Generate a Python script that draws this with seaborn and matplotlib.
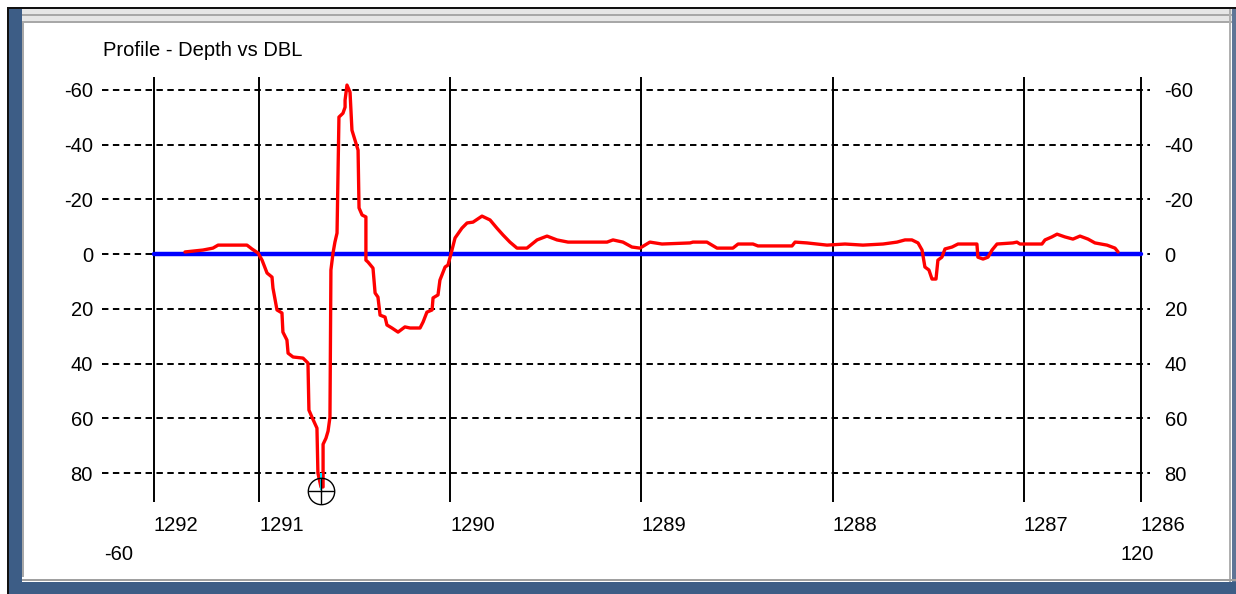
import numpy as np
import pandas as pd
import seaborn as sns
import matplotlib.pyplot as plt
from matplotlib.patches import Rectangle

sns.set_style('white')
plt.rcParams['font.family'] = ['Liberation Sans', 'DejaVu Sans']
plt.rcParams['text.color'] = 'black'

# Profile samples (depth, DBL value)
depth = [1291.387, 1291.345, 1291.293, 1291.241, 1291.214, 1291.063, 1291.037,
         1291.005, 1290.984, 1290.958, 1290.932, 1290.927, 1290.906, 1290.880,
         1290.875, 1290.854, 1290.848, 1290.822, 1290.770, 1290.744, 1290.739,
         1290.723, 1290.697, 1290.692, 1290.676, 1290.665, 1290.665, 1290.650,
         1290.639, 1290.629, 1290.624, 1290.613, 1290.603, 1290.592, 1290.582,
         1290.561, 1290.550, 1290.550, 1290.540, 1290.524, 1290.514, 1290.498,
         1290.482, 1290.477, 1290.461, 1290.441, 1290.441, 1290.430, 1290.404,
         1290.393, 1290.378, 1290.367, 1290.341, 1290.331, 1290.305, 1290.273,
         1290.237, 1290.210, 1290.158, 1290.142, 1290.122, 1290.095, 1290.090,
         1290.064, 1290.054, 1290.027, 1290.012, 1289.991, 1289.975, 1289.939,
         1289.912, 1289.881, 1289.834, 1289.792, 1289.756, 1289.724, 1289.688,
         1289.651, 1289.599, 1289.546, 1289.494, 1289.442, 1289.384, 1289.180,
         1289.149, 1289.097, 1289.050, 1289.008, 1288.956, 1288.893, 1288.746,
         1288.731, 1288.658, 1288.605, 1288.522, 1288.495, 1288.417, 1288.391,
         1288.213, 1288.197, 1288.135, 1288.030, 1287.936, 1287.842, 1287.737,
         1287.664, 1287.622, 1287.586, 1287.554, 1287.533, 1287.518, 1287.497,
         1287.481, 1287.460, 1287.450, 1287.429, 1287.413, 1287.376, 1287.345,
         1287.246, 1287.241, 1287.214, 1287.188, 1287.167, 1287.141, 1287.058,
         1287.037, 1287.021, 1286.906, 1286.890, 1286.854, 1286.827, 1286.786,
         1286.744, 1286.707, 1286.665, 1286.629, 1286.566, 1286.524, 1286.508]
dbl = [-0.8, -1.1, -1.5, -2.2, -3.3, -3.3, -1.9,
       -0.4, 2.2, 6.9, 8.4, 12.4, 20.4, 21.5,
       28.5, 31.4, 36.2, 37.6, 38.0, 39.8, 57.0,
       59.6, 63.6, 80.0, 85.1, 85.1, 69.5, 67.3,
       64.7, 59.6, 5.8, -0.4, -4.4, -7.7, -50.1,
       -51.5, -53.7, -56.3, -61.8, -59.2, -45.3, -41.7,
       -38.0, -16.9, -14.3, -13.6, 2.2, 2.9, 5.1,
       14.2, 15.7, 22.3, 23.0, 25.9, 27.0, 28.5,
       26.6, 27.0, 27.0, 24.8, 21.2, 20.4, 16.0,
       14.9, 9.5, 4.7, 4.0, -1.5, -5.9, -9.5,
       -11.4, -11.7, -13.9, -12.5, -9.5, -7.0, -4.4,
       -2.2, -2.2, -5.2, -6.6, -5.2, -4.4, -4.4,
       -5.2, -4.4, -2.6, -2.2, -4.4, -3.7, -4.1,
       -4.4, -4.4, -2.2, -2.2, -3.7, -3.7, -3.0,
       -3.0, -4.4, -4.1, -3.3, -3.7, -3.3, -3.7,
       -4.4, -5.2, -5.2, -4.1, -1.5, 4.7, 5.8,
       9.1, 9.1, 2.2, 1.1, -1.9, -2.6, -3.7,
       -3.7, 1.1, 1.8, 1.1, -1.5, -3.7, -4.1,
       -4.4, -3.7, -3.7, -5.2, -6.3, -7.3, -6.3,
       -5.5, -6.6, -5.5, -4.1, -3.3, -2.2, -0.8]

# reference (zero) line over the whole depth range
ref_depth = [1291.55, 1286.39]
ref_dbl = [0, 0]

x_ticks = [1291.55, 1291.0, 1290.0, 1289.0, 1288.0, 1287.0, 1286.39]
x_labels = ['1292', '1291', '1290', '1289', '1288', '1287', '1286']
y_ticks = [-60, -40, -20, 0, 20, 40, 60, 80]
range_labels = ['-60', '120']

W, H = 1236, 594


def px_rect(fig, x, y, w, h, color):
    fig.patches.append(Rectangle((x / W, 1 - (y + h) / H), w / W, h / H,
                                 transform=fig.transFigure, color=color,
                                 lw=0, zorder=-1))


fig = plt.figure(figsize=(W / 100, H / 100), dpi=100)
fig.patch.set_facecolor('white')

# window frame of the screenshot
px_rect(fig, 7, 7, W - 7, 2, '#111111')
px_rect(fig, 7, 7, 2, H - 7, '#111111')
px_rect(fig, 9, 9, 13, H - 9, '#3d5d86')
px_rect(fig, 22, 9, W - 22, 14, '#e6e6e6')
px_rect(fig, 22, 14, W - 22, 2, '#a8a8a8')
px_rect(fig, 22, 21, W - 22, 2, '#a8a8a8')
px_rect(fig, 22, 23, 2, H - 40, '#a8a8a8')
px_rect(fig, 1229, 9, 2, H - 9, '#b0b0b0')
px_rect(fig, 1232, 9, 4, H - 9, '#5f7596')
px_rect(fig, 22, 579, W - 22, 2, '#a0a0a0')
px_rect(fig, 9, 582, W - 9, 12, '#3d5d86')

ax = fig.add_axes([102 / W, (H - 502) / H, (1150 - 102) / W, (502 - 77) / H])
ax.set_facecolor('white')

profile = pd.DataFrame({'depth': depth, 'dbl': dbl})
sns.lineplot(x=ref_depth, y=ref_dbl, color='#0000ff', lw=3.2, ax=ax,
             zorder=3)
sns.lineplot(data=profile, x='depth', y='dbl', estimator=None, sort=False,
             color='#ff0000', lw=2.4, ax=ax, zorder=4)

# cursor at the deepest sample
i = int(np.argmax(dbl))
ax.vlines(depth[i], dbl[i] - 5, dbl[i] + 1, color='#00e5ff', lw=1.5,
          zorder=5)
ax.plot(depth[i], dbl[i] + 1.5, marker='o', ms=19, mfc='none', mec='black',
        mew=1, zorder=6, clip_on=False)
ax.plot(depth[i], dbl[i] + 1.5, marker='+', ms=19, mec='black', mew=1,
        zorder=6, clip_on=False)

ax.set_xlim(1291.821, 1286.341)
ax.set_ylim(90.6, -64.75)
ax.set_xticks(x_ticks)
ax.set_xticklabels(x_labels, ha='left')
ax.set_yticks(y_ticks)
ax.set_yticklabels([str(v) for v in y_ticks])
ax.set_xlabel('')
ax.set_ylabel('')
ax.grid(axis='x', color='black', lw=1.4, ls='-')
ax.grid(axis='y', color='black', lw=1.4, ls=(0, (3.3, 2.3)))
ax.set_axisbelow(True)
for s in ax.spines.values():
    s.set_visible(False)
ax.tick_params(axis='x', length=0, pad=10, labelsize=14.5, colors='black')
ax.tick_params(axis='y', length=0, pad=6.5, labelsize=14.5, colors='black')

# right-hand copy of the depth-value scale
sax = ax.secondary_yaxis('right')
sax.set_yticks(y_ticks)
sax.set_yticklabels([str(v) for v in y_ticks])
sax.tick_params(length=0, pad=10.5, labelsize=14.5, colors='black')
sax.spines['right'].set_visible(False)

fig.text(103 / W, 1 - 50 / H, 'Profile - Depth vs DBL', fontsize=14.5,
         va='center', ha='left', color='black')
fig.text(104 / W, 1 - 555 / H, range_labels[0], fontsize=14.5,
         va='center', ha='left', color='black')
fig.text(1154 / W, 1 - 555 / H, range_labels[1], fontsize=14.5,
         va='center', ha='right', color='black')

fig.savefig('out.png', dpi=100)
